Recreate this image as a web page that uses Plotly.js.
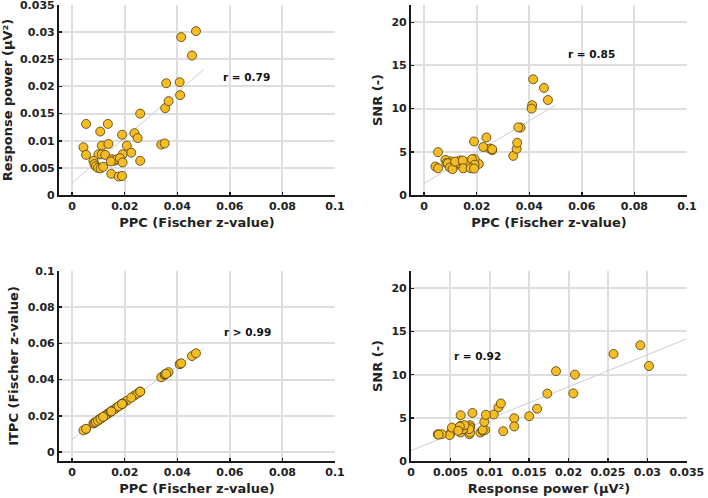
<!DOCTYPE html>
<html>
<head>
<meta charset="utf-8">
<script src="https://cdn.plot.ly/plotly-3.0.1.min.js"></script>
<style>
  html, body { margin: 0; padding: 0; background: #fff; }
  #chart { width: 708px; height: 498px; }
</style>
</head>
<body>
<div id="chart"></div>
<script>
// one value per subject
const ppc = [0.0053, 0.0136, 0.0107, 0.0190, 0.0237, 0.0249, 0.0259, 0.0043, 0.0053, 0.0113,
             0.0138, 0.0208, 0.0225, 0.0192, 0.0100, 0.0113, 0.0126, 0.0081, 0.0085, 0.0090,
             0.0098, 0.0108, 0.0118, 0.0151, 0.0162, 0.0170, 0.0182, 0.0147, 0.0192, 0.0259,
             0.0149, 0.0177, 0.0190, 0.0339, 0.0352, 0.0354, 0.0367, 0.0358, 0.0411, 0.0409,
             0.0415, 0.0456, 0.0471];
const power = [0.0131, 0.0131, 0.0117, 0.0111, 0.0114, 0.0105, 0.0150, 0.0088, 0.0074, 0.0091,
               0.0094, 0.0091, 0.0078, 0.0075, 0.0075, 0.0075, 0.0074, 0.0063, 0.0057, 0.0053,
               0.0050, 0.0049, 0.0052, 0.0066, 0.0063, 0.0066, 0.0068, 0.0062, 0.0060, 0.0063,
               0.0039, 0.0034, 0.0035, 0.0093, 0.0095, 0.0160, 0.0173, 0.0206, 0.0184, 0.0208,
               0.0291, 0.0257, 0.0302];
const snr = [4.96, 4.0, 3.45, 6.2, 6.66, 5.38, 5.19, 3.3, 3.1, 3.5,
             3.6, 3.6, 5.56, 4.15, 3.9, 3.3, 3.7, 4.07, 3.7, 3.68,
             3.2, 3.0, 3.87, 3.68, 3.3, 3.68, 4.15, 3.99, 3.5, 5.3,
             3.1, 3.1, 3.06, 4.53, 5.35, 6.05, 7.8, 7.83, 10.4, 10.0,
             13.4, 12.4, 11.0];
const itpc = [0.0127, 0.0212, 0.0183, 0.0266, 0.0312, 0.0323, 0.0334, 0.0119, 0.0128, 0.0189,
              0.0213, 0.0283, 0.0300, 0.0267, 0.0176, 0.0188, 0.0201, 0.0157, 0.0161, 0.0166,
              0.0173, 0.0183, 0.0194, 0.0226, 0.0237, 0.0246, 0.0257, 0.0223, 0.0268, 0.0333,
              0.0224, 0.0252, 0.0265, 0.0413, 0.0426, 0.0429, 0.0441, 0.0432, 0.0487, 0.0485,
              0.0490, 0.0530, 0.0545];

// regression line end points
const fitPpcX = [0, 0.05];
const fitPowerY = [0.0022, 0.0231];
const fitSnrY = [1.35, 10.4];
const fitItpcY = [0.0071, 0.0574];
const fitPowX = [0, 0.035];
const fitPowSnrY = [1.2, 14.15];

const rLabels = ['r = 0.79', 'r = 0.85', 'r > 0.99', 'r = 0.92'];

const dotStyle = {
  size: 9,
  color: 'rgb(245,188,36)',
  line: { color: '#4a3a0c', width: 0.8 }
};
const fitStyle = { color: '#cfcfcf', width: 1 };

function dots(x, y, xa, ya) {
  return { x: x, y: y, xaxis: xa, yaxis: ya, type: 'scatter', mode: 'markers',
           marker: dotStyle, hoverinfo: 'x+y' };
}
function fit(x, y, xa, ya) {
  return { x: x, y: y, xaxis: xa, yaxis: ya, type: 'scatter', mode: 'lines',
           line: fitStyle, hoverinfo: 'skip' };
}

const data = [
  fit(fitPpcX, fitPowerY, 'x', 'y'),
  fit(fitPpcX, fitSnrY, 'x2', 'y2'),
  fit(fitPpcX, fitItpcY, 'x3', 'y3'),
  fit(fitPowX, fitPowSnrY, 'x4', 'y4'),
  dots(ppc, power, 'x', 'y'),
  dots(ppc, snr, 'x2', 'y2'),
  dots(ppc, itpc, 'x3', 'y3'),
  dots(power, snr, 'x4', 'y4')
];

const titleFont = { size: 13, weight: 'bold', color: '#222' };

function axis(domain, range, dtick, title, anchor) {
  return {
    domain: domain, range: range, tick0: 0, dtick: dtick,
    title: { text: title, font: titleFont, standoff: 6 },
    showline: true, linecolor: '#1a1a1a', linewidth: 2,
    ticks: 'inside', ticklen: 3, tickwidth: 1.5, tickcolor: '#1a1a1a',
    ticklabeloverflow: 'allow',
    showgrid: true, gridcolor: '#dedede', gridwidth: 2,
    zeroline: false, anchor: anchor, fixedrange: true
  };
}

const colLeft = [0.0833, 0.4732], colRight = [0.5805, 0.9703];
const rowTop = [0.6084, 0.99], rowBottom = [0.0743, 0.4558];

const layout = {
  width: 708, height: 498,
  margin: { l: 0, r: 0, t: 0, b: 0 },
  paper_bgcolor: '#fff', plot_bgcolor: '#fff',
  showlegend: false,
  font: { family: 'DejaVu Sans, Verdana, sans-serif', size: 11, weight: 'bold', color: '#222' },
  xaxis: axis(colLeft, [-0.005, 0.1], 0.02, 'PPC (Fischer z-value)', 'y'),
  yaxis: axis(rowTop, [0, 0.03502], 0.005, 'Response power (µV²)', 'x'),
  xaxis2: axis(colRight, [-0.005, 0.1], 0.02, 'PPC (Fischer z-value)', 'y2'),
  yaxis2: axis(rowTop, [0, 22], 5, 'SNR (-)', 'x2'),
  xaxis3: axis(colLeft, [-0.005, 0.1], 0.02, 'PPC (Fischer z-value)', 'y3'),
  yaxis3: axis(rowBottom, [-0.005, 0.1], 0.02, 'ITPC (Fischer z-value)', 'x3'),
  xaxis4: axis(colRight, [0, 0.03502], 0.005, 'Response power (µV²)', 'y4'),
  yaxis4: axis(rowBottom, [0, 22], 5, 'SNR (-)', 'x4'),
  annotations: [
    { xref: 'x', yref: 'y', x: 0.0665, y: 0.0217, text: rLabels[0] },
    { xref: 'x2', yref: 'y2', x: 0.0635, y: 16.3, text: rLabels[1] },
    { xref: 'x3', yref: 'y3', x: 0.0668, y: 0.0663, text: rLabels[2] },
    { xref: 'x4', yref: 'y4', x: 0.0084, y: 12.2, text: rLabels[3] }
  ].map(a => Object.assign(a, { showarrow: false, font: { size: 10.5, weight: 'bold', color: '#111' } }))
};

Plotly.newPlot('chart', data, layout, { displayModeBar: false, staticPlot: true });
</script>
</body>
</html>
